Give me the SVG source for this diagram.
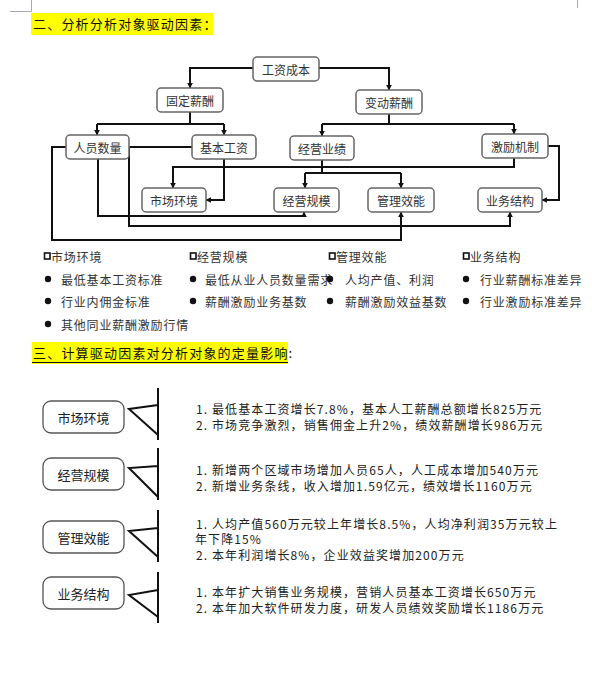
<svg xmlns="http://www.w3.org/2000/svg" width="592" height="677" viewBox="0 0 592 677">
<defs>
<marker id="ah" viewBox="0 0 10 10" refX="9" refY="5" markerWidth="6" markerHeight="6" markerUnits="userSpaceOnUse" orient="auto">
<path d="M0,0 L10,5 L0,10 z" fill="#111"/>
</marker>
<style>
text{font-family:"Noto Sans CJK SC","Noto Sans",sans-serif;fill:#222}
.hd{font-size:13px;letter-spacing:1.2px;fill:#111}
.nb{fill:#fff;stroke:#666;stroke-width:1.5}
.nt{font-size:12px;text-anchor:middle;dominant-baseline:central;fill:#333}
.cn{fill:none;stroke:#111;stroke-width:2}
.ca{fill:none;stroke:#111;stroke-width:2;marker-end:url(#ah)}
.li{font-size:12px;letter-spacing:0.8px;dominant-baseline:central;fill:#333}
.sq{fill:#fff;stroke:#111;stroke-width:1.6}
.bb{fill:#fff;stroke:#555;stroke-width:1.3}
.bt{font-size:13px;text-anchor:middle;dominant-baseline:central;fill:#222}
.sym{fill:none;stroke:#111;stroke-width:2}
.tx{font-size:12px;letter-spacing:1.1px;dominant-baseline:central;fill:#222}
.cm{stroke:#aaa;stroke-width:1}
</style>
</defs>
<rect width="592" height="677" fill="#fff"/>
<g id="cornermarks">
<line class="cm" x1="31.5" y1="0" x2="31.5" y2="11.5"/>
<line class="cm" x1="10" y1="11.5" x2="31.5" y2="11.5"/>
<line class="cm" x1="577.5" y1="0" x2="577.5" y2="8"/>
</g>
<g id="header1">
<rect x="31" y="13" width="182" height="22" fill="#ffff00"/>
<text class="hd" x="33" y="29">二、分析分析对象驱动因素：</text>
</g>
<g id="connectors">
<path class="ca" d="M253,68 H190 V88"/>
<path class="ca" d="M319,68 H389 V90"/>
<path class="cn" d="M190,112 V124 M97,124 H224"/>
<path class="ca" d="M97,124 V135"/>
<path class="ca" d="M224,124 V135"/>
<path class="cn" d="M389,114 V124 M322,124 H514"/>
<path class="ca" d="M322,124 V136"/>
<path class="ca" d="M514,124 V134"/>
<path class="ca" d="M224,159 V200 H206"/>
<path class="ca" d="M514,158 V167 H173 V188"/>
<path class="cn" d="M322,160 V173 M305,173 H401"/>
<path class="ca" d="M305,173 V188"/>
<path class="ca" d="M401,173 V188"/>
<path class="ca" d="M66,147 H52 V240 H401 V212"/>
<path class="ca" d="M98,159 V216 H304 V212"/>
<path class="ca" d="M192,147 H129 V226 H510 V212"/>
<path class="ca" d="M548,146 H559 V200 H542"/>
</g>
<g id="n-gongzichengben"><rect class="nb" x="253" y="57" width="66" height="24" rx="4"/><text class="nt" x="286" y="69">工资成本</text></g>
<g id="n-gudingxinchou"><rect class="nb" x="157" y="88" width="66" height="24" rx="4"/><text class="nt" x="190" y="100">固定薪酬</text></g>
<g id="n-biandongxinchou"><rect class="nb" x="356" y="90" width="66" height="24" rx="4"/><text class="nt" x="389" y="102">变动薪酬</text></g>
<g id="n-renyuanshuliang"><rect class="nb" x="66" y="135" width="63" height="24" rx="4"/><text class="nt" x="97.5" y="147">人员数量</text></g>
<g id="n-jibengongzi"><rect class="nb" x="192" y="135" width="64" height="24" rx="4"/><text class="nt" x="224" y="147">基本工资</text></g>
<g id="n-jingyingyeji"><rect class="nb" x="290" y="136" width="64" height="24" rx="4"/><text class="nt" x="322" y="148">经营业绩</text></g>
<g id="n-jilijizhi"><rect class="nb" x="482" y="134" width="66" height="24" rx="4"/><text class="nt" x="515" y="146">激励机制</text></g>
<g id="n-shichanghuanjing"><rect class="nb" x="142" y="188" width="64" height="24" rx="4"/><text class="nt" x="174" y="200">市场环境</text></g>
<g id="n-jingyingguimo"><rect class="nb" x="274" y="188" width="65" height="24" rx="4"/><text class="nt" x="306.5" y="200">经营规模</text></g>
<g id="n-guanlixiaoneng"><rect class="nb" x="368" y="188" width="66" height="24" rx="4"/><text class="nt" x="401" y="200">管理效能</text></g>
<g id="n-yewujiegou"><rect class="nb" x="478" y="188" width="64" height="24" rx="4"/><text class="nt" x="510" y="200">业务结构</text></g>
<g id="lists">
<rect class="sq" x="44.5" y="253" width="5.5" height="6"/><text class="li" x="51" y="256">市场环境</text>
<rect class="sq" x="190.5" y="253" width="5.5" height="6"/><text class="li" x="197" y="256">经营规模</text>
<rect class="sq" x="329.5" y="253" width="5.5" height="6"/><text class="li" x="336" y="256">管理效能</text>
<rect class="sq" x="463.5" y="253" width="5.5" height="6"/><text class="li" x="470" y="256">业务结构</text>
<circle cx="48" cy="279" r="3.2" fill="#111"/><text class="li" x="61" y="279">最低基本工资标准</text>
<circle cx="48" cy="301" r="3.2" fill="#111"/><text class="li" x="61" y="301">行业内佣金标准</text>
<circle cx="48" cy="324" r="3.2" fill="#111"/><text class="li" x="61" y="324">其他同业薪酬激励行情</text>
<text class="li" x="205" y="279">最低从业人员数量需求</text>
<circle cx="193" cy="279" r="3.2" fill="#111"/>
<circle cx="193" cy="301" r="3.2" fill="#111"/><text class="li" x="205" y="301">薪酬激励业务基数</text>
<circle cx="330" cy="279" r="3.2" fill="#111"/><text class="li" x="345" y="279">人均产值、利润</text>
<circle cx="330" cy="301" r="3.2" fill="#111"/><text class="li" x="345" y="301">薪酬激励效益基数</text>
<circle cx="466" cy="279" r="3.2" fill="#111"/><text class="li" x="480" y="279">行业薪酬标准差异</text>
<circle cx="466" cy="301" r="3.2" fill="#111"/><text class="li" x="480" y="301">行业激励标准差异</text>
</g>
<g id="header2">
<rect x="32" y="342" width="256" height="22" fill="#ffff00"/>
<text class="hd" x="33" y="358">三、计算驱动因素对分析对象的定量影响:</text>
<line x1="32" y1="362.5" x2="288" y2="362.5" stroke="#111" stroke-width="1"/>
</g>
<g id="b-shichanghuanjing">
<rect class="bb" x="43" y="401" width="81" height="32" rx="8"/><text class="bt" x="83.5" y="417">市场环境</text>
<path class="sym" d="M158,388 V440 M158,405 L129,409 L158,435"/>
<text class="tx" x="196" y="408">1. 最低基本工资增长7.8%，基本人工薪酬总额增长825万元</text>
<text class="tx" x="196" y="424">2. 市场竞争激烈，销售佣金上升2%，绩效薪酬增长986万元</text>
</g>
<g id="b-jingyingguimo">
<rect class="bb" x="43" y="458" width="81" height="32" rx="8"/><text class="bt" x="83.5" y="474">经营规模</text>
<path class="sym" d="M158,448 V500 M158,466 L129,468 L158,497"/>
<text class="tx" x="196" y="469">1. 新增两个区域市场增加人员65人，人工成本增加540万元</text>
<text class="tx" x="196" y="485">2. 新增业务条线，收入增加1.59亿元，绩效增长1160万元</text>
</g>
<g id="b-guanlixiaoneng">
<rect class="bb" x="43" y="521" width="81" height="32" rx="8"/><text class="bt" x="83.5" y="537">管理效能</text>
<path class="sym" d="M158,510 V562 M158,528 L129,531 L158,557"/>
<text class="tx" x="196" y="523">1. 人均产值560万元较上年增长8.5%，人均净利润35万元较上</text>
<text class="tx" x="195" y="538.5">年下降15%</text>
<text class="tx" x="196" y="554">2. 本年利润增长8%，企业效益奖增加200万元</text>
</g>
<g id="b-yewujiegou">
<rect class="bb" x="43" y="577" width="81" height="32" rx="8"/><text class="bt" x="83.5" y="593">业务结构</text>
<path class="sym" d="M158,572 V623 M158,590 L129,595 L158,617"/>
<text class="tx" x="196" y="591">1. 本年扩大销售业务规模，营销人员基本工资增长650万元</text>
<text class="tx" x="196" y="607">2. 本年加大软件研发力度，研发人员绩效奖励增长1186万元</text>
</g>
</svg>
